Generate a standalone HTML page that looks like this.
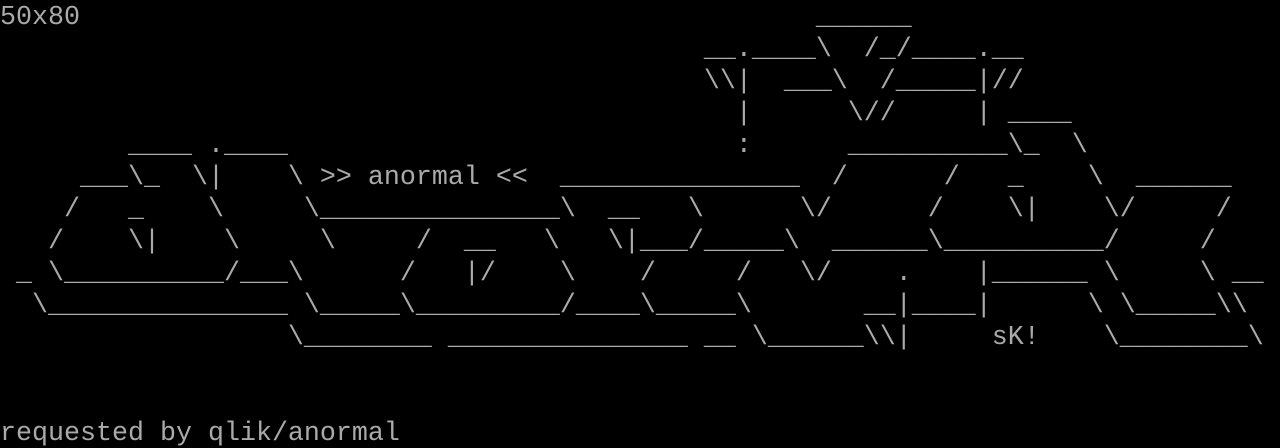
<!DOCTYPE html>
<html>
<head>
<meta charset="utf-8">
<style>
html,body{margin:0;padding:0;background:#000;width:1280px;height:448px;overflow:hidden;}
pre{margin:0;padding:2px 0 0 0;font-family:"Liberation Mono","DejaVu Sans Mono",monospace;font-size:26.6667px;line-height:32px;color:#aaaaaa;white-space:pre;}
</style>
</head>
<body>
<pre>50x80                                              ______
                                            __.____\  /_/____.__
                                            \\|  ___\  /_____|//
                                              |      \//     | ____
        ____ .____                            :      __________\_  \
     ___\_  \|    \ &gt;&gt; anormal &lt;&lt;  _______________  /      /   _    \  ______
    /   _    \     \_______________\  __   \      \/      /    \|    \/     /
   /    \|    \     \     /  __   \   \|___/_____\  ______\__________/     /
 _ \__________/___\      /   |/    \    /     /   \/    .    |______ \     \ __
  \_______________ \_____\_________/____\_____\       __|____|      \ \_____\\
                  \________ _______________ __ \______\\|     sK!    \________\


requested by qlik/anormal</pre>
</body>
</html>
